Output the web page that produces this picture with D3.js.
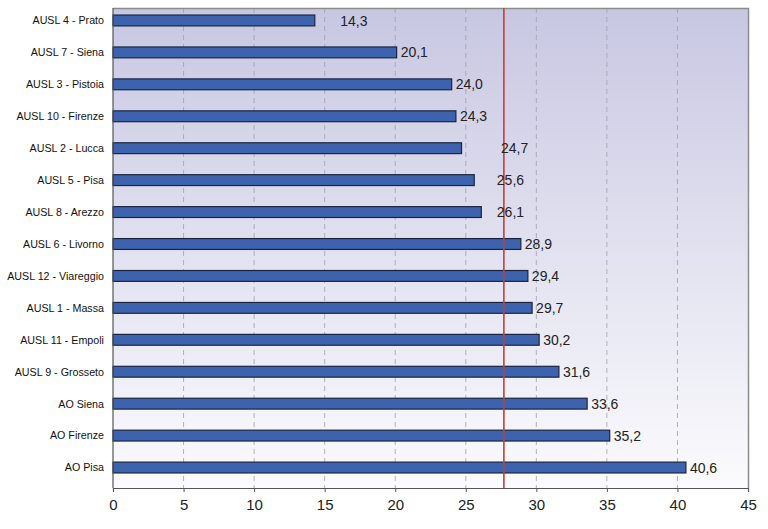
<!DOCTYPE html>
<html><head><meta charset="utf-8">
<script src="https://cdn.jsdelivr.net/npm/d3@7"></script>
<style>body{margin:0;background:#fff;}svg{display:block;font-family:"Liberation Sans",Arial,sans-serif;}</style>
</head><body>
<svg id="c" width="768" height="529"></svg>
<script>
const categories = ["AUSL 4 - Prato","AUSL 7 - Siena","AUSL 3 - Pistoia","AUSL 10 - Firenze","AUSL 2 - Lucca","AUSL 5 - Pisa","AUSL 8 - Arezzo","AUSL 6 - Livorno","AUSL 12 - Viareggio","AUSL 1 - Massa","AUSL 11 - Empoli","AUSL 9 - Grosseto","AO Siena","AO Firenze","AO Pisa"];
const values = [14.3,20.1,24.0,24.3,24.7,25.6,26.1,28.9,29.4,29.7,30.2,31.6,33.6,35.2,40.6];
const valueLabels = ["14,3","20,1","24,0","24,3","24,7","25,6","26,1","28,9","29,4","29,7","30,2","31,6","33,6","35,2","40,6"];
// label anchor overrides in value units (null = right after the bar)
const labelAt = [16.1,null,null,null,27.5,27.2,27.2,null,null,null,null,null,null,null,null];
const refValue = 27.7;
const xTicks = [0,5,10,15,20,25,30,35,40,45];

const svg = d3.select("#c");
const L=113, R=748, T=8, B=488;
const x = d3.scaleLinear().domain([0,45]).range([L,R]);
const y = d3.scaleBand().domain(categories).range([4.5,483.5]).paddingInner(0.66).paddingOuter(0.33);

const defs = svg.append("defs");
const g = defs.append("linearGradient").attr("id","bg").attr("x1",0).attr("y1",0).attr("x2",0).attr("y2",1);
g.append("stop").attr("offset","0%").attr("stop-color","#c8c7e2");
g.append("stop").attr("offset","100%").attr("stop-color","#fbfbfd");
svg.append("rect").attr("x",L).attr("y",T).attr("width",R-L).attr("height",B-T).attr("fill","url(#bg)");

// grid
svg.append("g").selectAll("line").data(xTicks.slice(1,-1)).join("line")
  .attr("x1",d=>x(d)).attr("x2",d=>x(d)).attr("y1",T).attr("y2",B)
  .attr("stroke","#a0a0ae").attr("stroke-width",0.8).attr("stroke-dasharray","5,4");

// border top/right
svg.append("path").attr("d",`M${L},${T+0.5}H${R+0.5}V${B}`).attr("fill","none").attr("stroke","#8c8c8c").attr("stroke-width",1.5);

// bars
svg.append("g").selectAll("rect").data(values).join("rect")
  .attr("x",x(0)).attr("y",(d,i)=>y(categories[i]))
  .attr("width",d=>x(d)-x(0)).attr("height",y.bandwidth())
  .attr("fill","#3d63ae").attr("stroke","#1b2540").attr("stroke-width",1.2);

// reference line
svg.append("line").attr("x1",x(refValue)).attr("x2",x(refValue)).attr("y1",T).attr("y2",B)
  .attr("stroke","#c0403a").attr("stroke-width",1.6);

// value labels
svg.append("g").selectAll("text").data(values).join("text")
  .attr("x",(d,i)=> labelAt[i]!=null ? x(labelAt[i]) : x(d)+4)
  .attr("y",(d,i)=>y(categories[i])+y.bandwidth()/2)
  .attr("dy","0.36em").attr("font-size",14).attr("fill","#222")
  .text((d,i)=>valueLabels[i]);

// axes
const xAxis = d3.axisBottom(x).tickValues(xTicks).tickSize(4).tickFormat(d=>d);
const ax = svg.append("g").attr("transform",`translate(0,${B})`).call(xAxis);
ax.select(".domain").attr("stroke","#555").attr("stroke-width",1.2);
ax.selectAll(".tick line").attr("stroke","#555");
ax.selectAll("text").attr("font-size",15).attr("fill","#222").attr("dy","1.0em").attr("font-family","'Liberation Sans',Arial,sans-serif");

svg.append("line").attr("x1",L).attr("x2",L).attr("y1",T).attr("y2",B).attr("stroke","#555").attr("stroke-width",1.2);

svg.append("g").selectAll("text").data(categories).join("text")
  .attr("x",104).attr("y",d=>y(d)+y.bandwidth()/2).attr("dy","0.36em")
  .attr("text-anchor","end").attr("font-size",10.7).attr("fill","#111").text(d=>d);
</script>
</body></html>
